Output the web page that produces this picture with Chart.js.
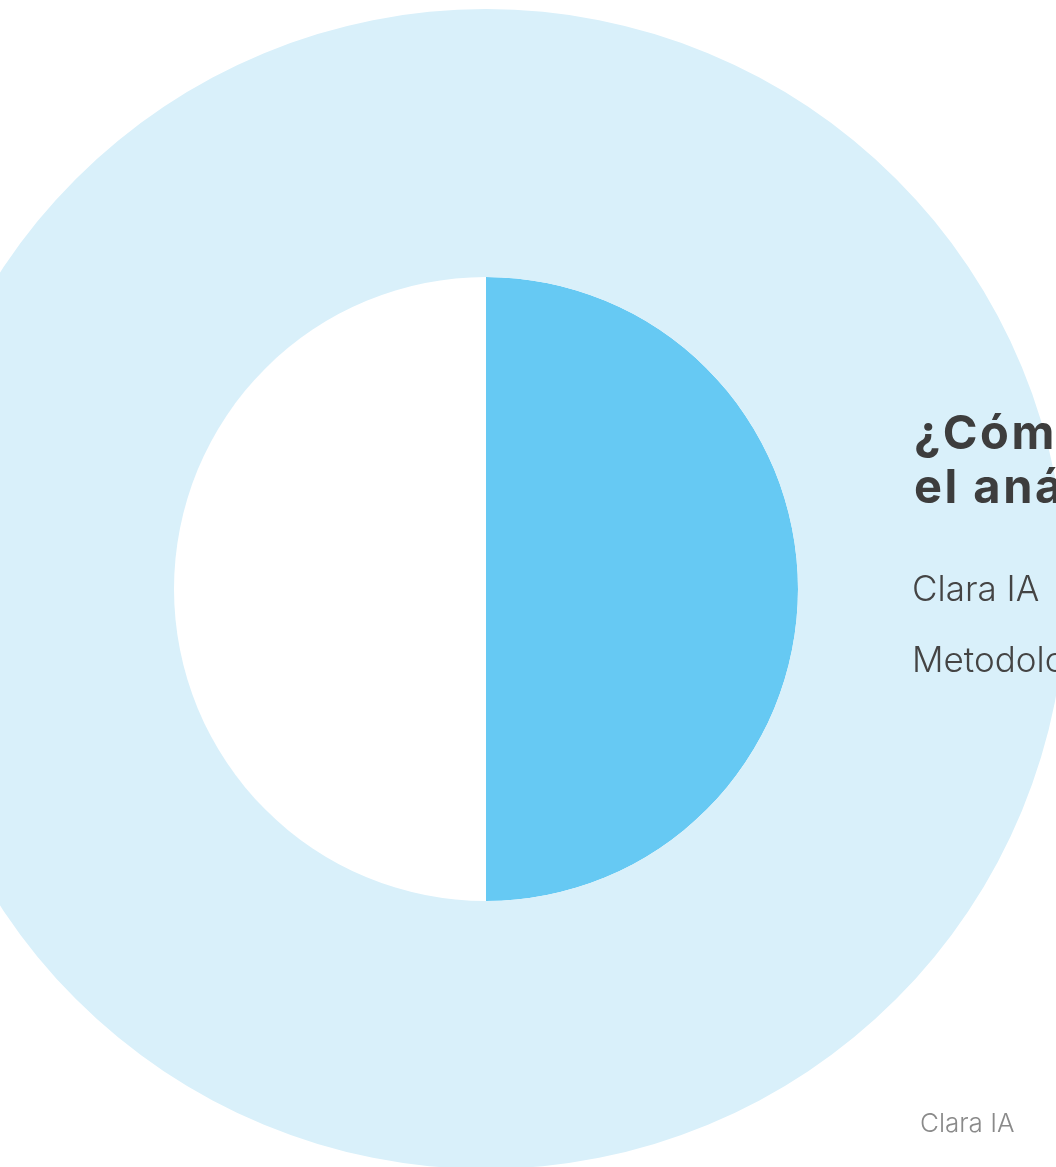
<!DOCTYPE html>
<html lang="es">
<head>
<meta charset="utf-8">
<script src="https://cdn.jsdelivr.net/npm/chart.js@4/dist/chart.umd.min.js"></script>
<style>
  html, body { margin: 0; padding: 0; width: 1056px; height: 1167px; overflow: hidden; background: #ffffff; }
  #wrap { position: absolute; left: -94px; top: 9px; width: 1160px; height: 1160px; }
  .txt { position: absolute; font-family: Inter, "Noto Sans", sans-serif; white-space: nowrap; }
  #title { left: 914px; top: 405px; font-size: 47px; font-weight: 700; line-height: 54px; color: #3d3d3d; letter-spacing: 2.5px; }
  .lbl { left: 912px; font-size: 35px; line-height: 35px; font-weight: 300; color: #444444; }
  #l1 { top: 571px; }
  #l2 { top: 642px; }
  #src { left: 920px; top: 1110px; font-size: 26px; line-height: 26px; font-weight: 300; color: #8a8a8a; }
</style>
</head>
<body>
<div id="wrap"><canvas id="c" width="1160" height="1160"></canvas></div>
<div class="txt" id="title">¿Cómo funciona<br>el análisis?</div>
<div class="txt lbl" id="l1">Clara IA</div>
<div class="txt lbl" id="l2">Metodología</div>
<div class="txt" id="src">Clara IA</div>
<script>
const outerLabels = ["Total"];
const outerValues = [100];
const innerLabels = ["Clara IA", "Metodología"];
const innerValues = [50, 50];

new Chart(document.getElementById('c'), {
  type: 'pie',
  data: {
    datasets: [
      { label: 'Total', data: outerValues, backgroundColor: ['#d9f0fa'], borderWidth: 0, weight: 268 },
      { label: 'Reparto', data: innerValues, backgroundColor: ['#66c9f3', '#ffffff'], borderWidth: 0, weight: 312 }
    ],
    labels: innerLabels
  },
  options: {
    responsive: false,
    animation: false,
    layout: { padding: 0 },
    plugins: { legend: { display: false }, tooltip: { enabled: false } },
    events: []
  }
});
</script>
</body>
</html>
